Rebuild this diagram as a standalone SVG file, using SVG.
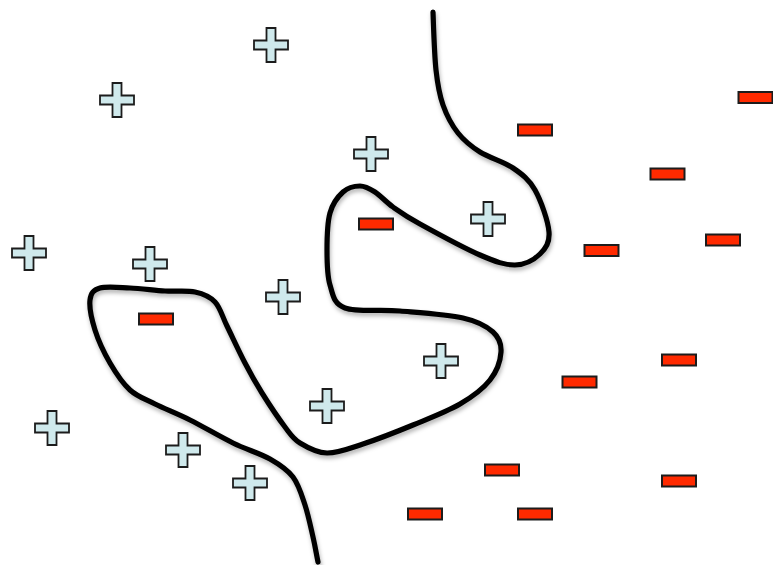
<svg xmlns="http://www.w3.org/2000/svg" width="773" height="565" viewBox="0 0 773 565">
<style>
.plus{fill:#cfe9ec;stroke:#1c1c1c;stroke-width:1.8;stroke-linejoin:miter}
.minus{fill:#ff2a00;stroke:#1c1c1c;stroke-width:2}
.boundary{fill:none;stroke:#000;stroke-width:5.2;stroke-linecap:round;stroke-linejoin:round}
</style>
<defs>
<filter id="shadow" x="-10%" y="-10%" width="120%" height="120%">
<feDropShadow dx="1" dy="3" stdDeviation="2.2" flood-color="#000" flood-opacity="0.3"/>
</filter>
<path id="plusShape" class="plus" d="M-4.5,-17H4.5V-4.5H17V4.5H4.5V17H-4.5V4.5H-17V-4.5H-4.5Z"/>
<rect id="minusShape" class="minus" x="-17" y="-5.5" width="34" height="11"/>
</defs>
<rect width="773" height="565" fill="#fff"/>
<g id="connectors">
<path id="decision-boundary" class="boundary" filter="url(#shadow)" d="M433,12 C433.5,25 434.3,54.5 436,70 S439.3,94.5 443,105 S451.8,125.2 458,133 S470.8,146.2 480,152 S503.8,161.7 513,168 S529,179.3 535,190 S548.2,221.3 549,232 S545.7,248.5 540,254 S525,264.8 515,265 S495.8,261.8 480,255 S434.5,232 420,224 S400.5,212.3 393,207 S380.5,195.5 375,192 S365.3,186 360,186 S348,187.5 343,192 S332.7,203.3 330,213 S327,238 327,250 S327,275.3 330,285 S333.3,303.7 345,308 S380.3,309.3 400,311 S447.5,314.5 463,318 S486.7,326.3 493,332 S501.5,344 501,352 S496.8,371.3 490,380 S472.8,396.5 460,404 S429.2,418.3 413,425 S377.3,439.3 363,444 S337.5,453.2 327,453 S307,447.3 300,443 S291.3,435.3 285,427 S268.7,403.7 262,393 S250.8,374.2 245,363 S232,336.2 227,326 S220.3,307.7 215,302 S203.3,293.8 195,292 S175.8,291.7 165,291 S140.8,288.5 130,288 S106.7,286 100,288 S90.8,293 90,300 S91.7,319.5 95,330 S104.2,353 110,363 S122.5,383.2 130,390 S145,399 155,404 S177,413.5 190,420 S219.7,436.5 233,443 S260,453.3 270,459 S287.2,469.3 293,477 S301.7,495 305,505 S310.8,527.5 313,537 S316,552 318,562"/>
</g>
<g id="plus-1"><use href="#plusShape" x="271" y="45"/></g>
<g id="plus-2"><use href="#plusShape" x="117" y="100"/></g>
<g id="plus-3"><use href="#plusShape" x="371" y="154"/></g>
<g id="plus-4"><use href="#plusShape" x="29" y="253"/></g>
<g id="plus-5"><use href="#plusShape" x="150" y="264"/></g>
<g id="plus-6"><use href="#plusShape" x="488" y="219"/></g>
<g id="plus-7"><use href="#plusShape" x="283" y="297"/></g>
<g id="plus-8"><use href="#plusShape" x="441" y="361"/></g>
<g id="plus-9"><use href="#plusShape" x="327" y="406"/></g>
<g id="plus-10"><use href="#plusShape" x="52" y="428"/></g>
<g id="plus-11"><use href="#plusShape" x="183" y="450"/></g>
<g id="plus-12"><use href="#plusShape" x="250" y="483"/></g>
<g id="minus-1"><use href="#minusShape" x="535" y="130"/></g>
<g id="minus-2"><use href="#minusShape" x="755.5" y="97.5"/></g>
<g id="minus-3"><use href="#minusShape" x="667.5" y="174"/></g>
<g id="minus-4"><use href="#minusShape" x="601.5" y="250.5"/></g>
<g id="minus-5"><use href="#minusShape" x="723" y="240"/></g>
<g id="minus-6"><use href="#minusShape" x="376" y="224"/></g>
<g id="minus-7"><use href="#minusShape" x="156" y="319"/></g>
<g id="minus-8"><use href="#minusShape" x="679" y="360"/></g>
<g id="minus-9"><use href="#minusShape" x="579.5" y="382"/></g>
<g id="minus-10"><use href="#minusShape" x="502" y="470"/></g>
<g id="minus-11"><use href="#minusShape" x="679" y="481"/></g>
<g id="minus-12"><use href="#minusShape" x="425" y="514"/></g>
<g id="minus-13"><use href="#minusShape" x="535" y="514"/></g>
</svg>
